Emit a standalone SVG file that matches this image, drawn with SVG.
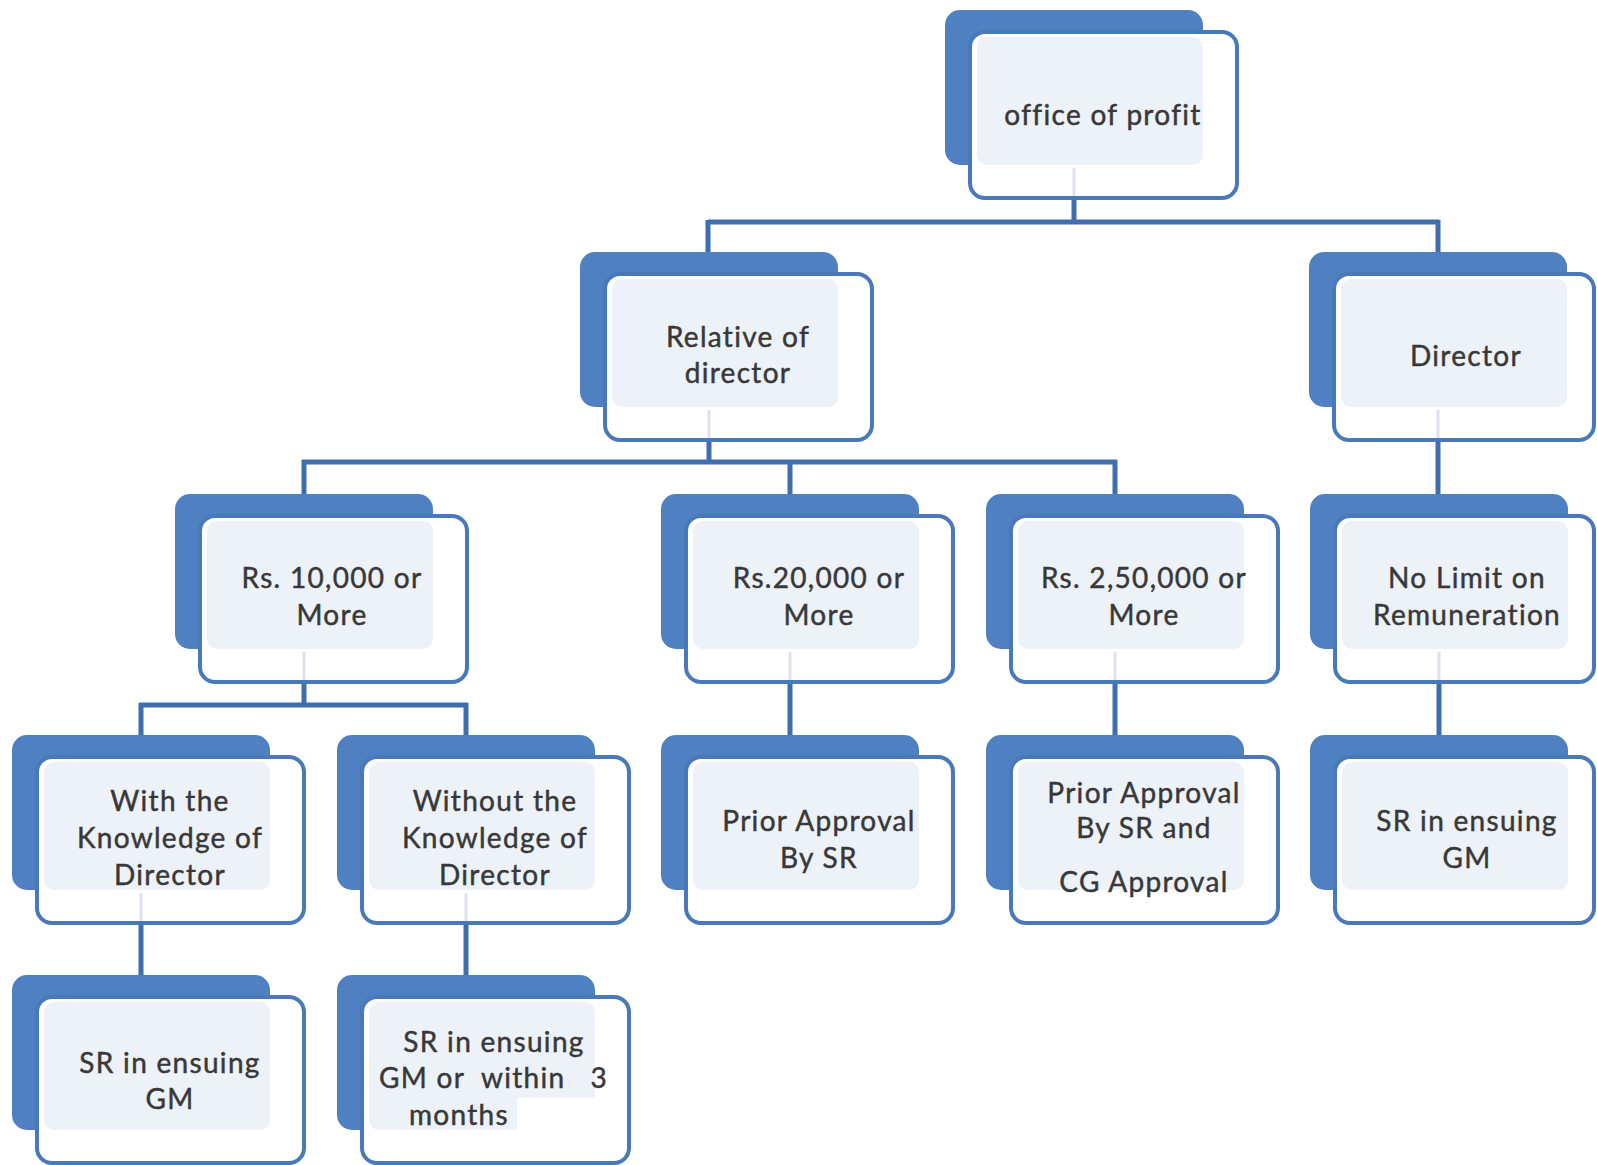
<svg xmlns="http://www.w3.org/2000/svg" width="1597" height="1165" viewBox="0 0 1597 1165">
<style>
.back{fill:#4F80C1;}
.front{fill:#FFFFFF;stroke:#4A79BA;stroke-width:4;}
.light{fill:#EDF1F8;}
.conn{fill:none;stroke:#3F6EAF;stroke-width:5;stroke-linecap:butt;}
.ghost{fill:none;stroke:#DCE3EE;stroke-width:3;}
.t{font-family:Lato,"Open Sans","Liberation Sans",sans-serif;font-size:28px;letter-spacing:1.3px;fill:#383838;stroke:#383838;stroke-width:0.45px;text-anchor:middle;}
</style>
<rect width="1597" height="1165" fill="#FFFFFF"/>
<g id="connectors">
  <path class="conn" d="M1074 198 V222 M708 222 H1439 M708 220 V252 M1438 220 V252"/>
  <path class="conn" d="M709 440 V462 M302 462 H1117 M304 460 V494 M790 460 V494 M1115 460 V494"/>
  <path class="conn" d="M1438 440 V494"/>
  <path class="conn" d="M304 682 V705 M139 705 H468 M141 703 V735 M466 703 V735"/>
  <path class="conn" d="M790 682 V735 M1115 682 V735 M1439 682 V735"/>
  <path class="conn" d="M141 923 V975 M466 923 V975"/>
</g>
<g id="n_office">
  <rect class="back" x="945" y="10" width="258" height="155" rx="15"/>
  <rect class="front" x="970" y="32" width="267" height="166" rx="15"/>
  <rect class="light" x="977" y="37" width="226" height="128" rx="10"/>
  <line class="ghost" x1="1074" y1="168" x2="1074" y2="196"/>
  <text class="t" x="1103" y="125">office of profit</text>
</g>
<g id="n_relative">
  <rect class="back" x="580" y="252" width="258" height="155" rx="15"/>
  <rect class="front" x="605" y="274" width="267" height="166" rx="15"/>
  <rect class="light" x="612" y="279" width="226" height="128" rx="10"/>
  <line class="ghost" x1="709" y1="410" x2="709" y2="438"/>
  <text class="t" x="738" y="347">Relative of</text>
  <text class="t" x="738" y="383">director</text>
</g>
<g id="n_director">
  <rect class="back" x="1309" y="252" width="258" height="155" rx="15"/>
  <rect class="front" x="1334" y="274" width="260" height="166" rx="15"/>
  <rect class="light" x="1341" y="279" width="226" height="128" rx="10"/>
  <line class="ghost" x1="1438" y1="410" x2="1438" y2="438"/>
  <text class="t" x="1466" y="366">Director</text>
</g>
<g id="n_10000">
  <rect class="back" x="175" y="494" width="258" height="155" rx="15"/>
  <rect class="front" x="200" y="516" width="267" height="166" rx="15"/>
  <rect class="light" x="207" y="521" width="226" height="128" rx="10"/>
  <line class="ghost" x1="304" y1="652" x2="304" y2="680"/>
  <text class="t" x="332" y="588">Rs. 10,000 or</text>
  <text class="t" x="332" y="625">More</text>
</g>
<g id="n_20000">
  <rect class="back" x="661" y="494" width="258" height="155" rx="15"/>
  <rect class="front" x="686" y="516" width="267" height="166" rx="15"/>
  <rect class="light" x="693" y="521" width="226" height="128" rx="10"/>
  <line class="ghost" x1="790" y1="652" x2="790" y2="680"/>
  <text class="t" x="819" y="588">Rs.20,000 or</text>
  <text class="t" x="819" y="625">More</text>
</g>
<g id="n_250000">
  <rect class="back" x="986" y="494" width="258" height="155" rx="15"/>
  <rect class="front" x="1011" y="516" width="267" height="166" rx="15"/>
  <rect class="light" x="1018" y="521" width="226" height="128" rx="10"/>
  <line class="ghost" x1="1115" y1="652" x2="1115" y2="680"/>
  <text class="t" x="1144" y="588">Rs. 2,50,000 or</text>
  <text class="t" x="1144" y="625">More</text>
</g>
<g id="n_nolimit">
  <rect class="back" x="1310" y="494" width="258" height="155" rx="15"/>
  <rect class="front" x="1335" y="516" width="259" height="166" rx="15"/>
  <rect class="light" x="1342" y="521" width="226" height="128" rx="10"/>
  <line class="ghost" x1="1439" y1="652" x2="1439" y2="680"/>
  <text class="t" x="1467" y="588">No Limit on</text>
  <text class="t" x="1467" y="625">Remuneration</text>
</g>
<g id="n_with">
  <rect class="back" x="12" y="735" width="258" height="155" rx="15"/>
  <rect class="front" x="37" y="757" width="267" height="166" rx="15"/>
  <rect class="light" x="44" y="762" width="226" height="128" rx="10"/>
  <line class="ghost" x1="141" y1="893" x2="141" y2="921"/>
  <text class="t" x="170" y="811">With the</text>
  <text class="t" x="170" y="848">Knowledge of</text>
  <text class="t" x="170" y="885">Director</text>
</g>
<g id="n_without">
  <rect class="back" x="337" y="735" width="258" height="155" rx="15"/>
  <rect class="front" x="362" y="757" width="267" height="166" rx="15"/>
  <rect class="light" x="369" y="762" width="226" height="128" rx="10"/>
  <line class="ghost" x1="466" y1="893" x2="466" y2="921"/>
  <text class="t" x="495" y="811">Without the</text>
  <text class="t" x="495" y="848">Knowledge of</text>
  <text class="t" x="495" y="885">Director</text>
</g>
<g id="n_priorsr">
  <rect class="back" x="661" y="735" width="258" height="155" rx="15"/>
  <rect class="front" x="686" y="757" width="267" height="166" rx="15"/>
  <rect class="light" x="693" y="762" width="226" height="128" rx="10"/>
  <text class="t" x="819" y="831">Prior Approval</text>
  <text class="t" x="819" y="868">By SR</text>
</g>
<g id="n_priorsrcg">
  <rect class="back" x="986" y="735" width="258" height="155" rx="15"/>
  <rect class="front" x="1011" y="757" width="267" height="166" rx="15"/>
  <rect class="light" x="1018" y="762" width="226" height="128" rx="10"/>
  <text class="t" x="1144" y="803">Prior Approval</text>
  <text class="t" x="1144" y="838">By SR and</text>
  <text class="t" x="1144" y="892">CG Approval</text>
</g>
<g id="n_srgm_dir">
  <rect class="back" x="1310" y="735" width="258" height="155" rx="15"/>
  <rect class="front" x="1335" y="757" width="259" height="166" rx="15"/>
  <rect class="light" x="1342" y="762" width="226" height="128" rx="10"/>
  <text class="t" x="1467" y="831">SR in ensuing</text>
  <text class="t" x="1467" y="868">GM</text>
</g>
<g id="n_srgm_with">
  <rect class="back" x="12" y="975" width="258" height="155" rx="15"/>
  <rect class="front" x="37" y="997" width="267" height="166" rx="15"/>
  <rect class="light" x="44" y="1002" width="226" height="128" rx="10"/>
  <text class="t" x="170" y="1073">SR in ensuing</text>
  <text class="t" x="170" y="1109">GM</text>
</g>
<g id="n_srgm_without">
  <rect class="back" x="337" y="975" width="258" height="155" rx="15"/>
  <rect class="front" x="362" y="997" width="267" height="166" rx="15"/>
  <rect class="light" x="369" y="1002" width="226" height="128" rx="10"/>
  <rect x="517" y="1098" width="78" height="34" fill="#FFFFFF"/>
  <text class="t" x="494" y="1052">SR in ensuing</text>
  <text class="t" y="1088" style="white-space:pre"><tspan x="379" style="text-anchor:start">GM or  within</tspan><tspan x="608" style="text-anchor:end">3</tspan></text>
  <text class="t" x="409" y="1125" style="text-anchor:start">months</text>
</g>
</svg>
